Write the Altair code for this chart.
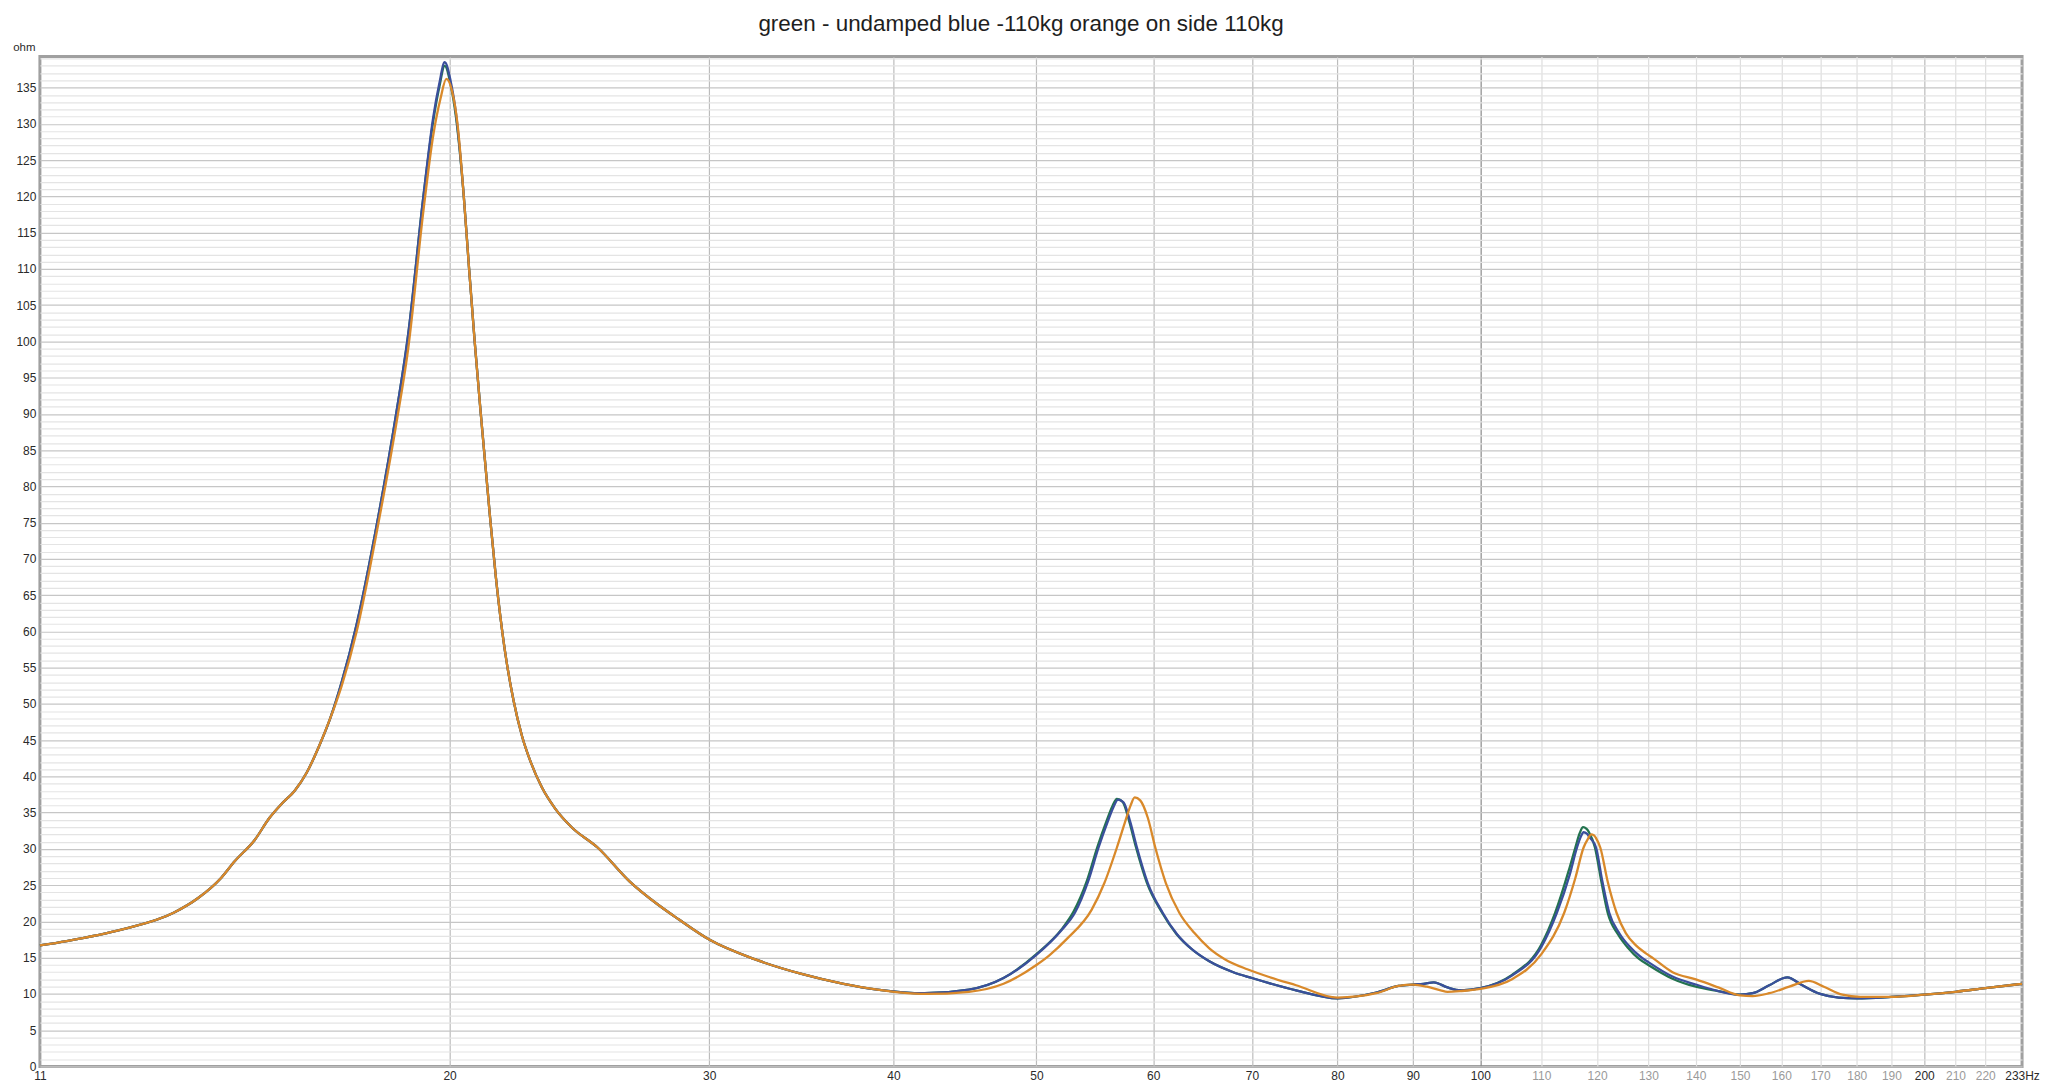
import altair as alt
import pandas as pd

TITLE = "green - undamped blue -110kg orange on side 110kg"

# ---- data (frequency in Hz, impedance in ohm) ----
GREEN_F = [10.55, 11, 12, 13, 13.5, 14, 14.3, 14.75, 15.1, 15.4, 15.7, 16.0, 16.3, 16.6, 16.9, 17.3,
           17.9, 18.4, 18.75, 19.2, 19.5, 19.68, 19.85, 20.03, 20.2, 20.45, 20.62, 20.8, 21.0, 21.3, 21.5,
           21.8, 22.1, 22.4, 22.7, 23.1, 23.6, 24.2, 25.2, 26.5, 27.7, 28.6, 30, 32.2, 34.6, 37, 39, 42,
           45, 47.5, 50, 52, 53, 54.1, 55, 55.8, 56.3, 56.7, 57.2, 57.8, 58.4, 59.4, 60.8, 62.2, 63.7,
           65.5, 68, 70, 75, 80, 85, 88, 90, 91.5, 93, 95, 97, 100, 105, 110, 112.4, 114.8, 116, 116.8,
           117.4, 118.0, 118.5, 119.6, 120.8, 122, 124, 126, 128, 130, 135, 140, 145, 150, 153, 157, 161.5, 165,
           170, 175, 180, 190, 200, 210, 220, 233]
GREEN_V = [16.7, 17.3, 18.9, 21.2, 23.2, 26.0, 28.3, 31.2, 34.3, 36.3, 38.0, 40.5, 44.0, 48.0, 53.0, 61.0,
           76.0, 90.0, 101.0, 120.0, 130.5, 135.0, 138.0, 135.5, 131.0, 120.0, 110.0, 100.0, 90.0, 76.0, 67.5,
           57.5, 50.5, 45.5, 42.0, 38.5, 35.5, 33.0, 30.2, 25.5, 22.3, 20.3, 17.5, 14.8, 12.8, 11.4, 10.6, 10.1,
           10.6, 12.2, 15.5, 18.9, 21.4, 25.6, 30.3, 33.9, 35.9, 36.9, 36.5, 33.8, 30.3, 25.4, 21.3, 18.3, 16.2,
           14.5, 13.0, 12.2, 10.5, 9.4, 10.2, 11.1, 11.3, 11.4, 11.6, 10.9, 10.5, 10.8, 12.6, 16.8, 21.2, 27.0, 30.2, 32.2,
           33.0, 32.8, 32.3, 30.2, 25.5, 21.2, 18.2, 16.3, 14.9, 14.0, 12.1, 11.0, 10.4, 9.9, 10.1, 11.2, 12.3, 11.3,
           10.0, 9.5, 9.4, 9.6, 9.9, 10.3, 10.8, 11.4]

BLUE_F = [10.55, 11, 12, 13, 13.5, 14, 14.3, 14.75, 15.1, 15.4, 15.7, 16.0, 16.3, 16.6, 16.9, 17.3,
          17.9, 18.4, 18.75, 19.2, 19.5, 19.68, 19.85, 20.03, 20.2, 20.45, 20.62, 20.8, 21.0, 21.3, 21.5,
          21.8, 22.1, 22.4, 22.7, 23.1, 23.6, 24.2, 25.2, 26.5, 27.7, 28.6, 30, 32.2, 34.6, 37, 39, 42,
          45, 47.5, 50, 52, 53.1, 54.2, 55.1, 55.9, 56.4, 56.8, 57.3, 57.9, 58.5, 59.5, 60.9, 62.3, 63.8,
          65.5, 68, 70, 75, 80, 85, 88, 90, 91.5, 93, 95, 97, 100, 105, 110, 112.7, 115, 116.3, 117.0,
          117.5, 118.1, 118.6, 119.8, 121, 122.3, 124.3, 126.3, 128.3, 130, 135, 140, 145, 150, 153, 157, 161.5, 165,
          170, 175, 180, 190, 200, 210, 220, 233]
BLUE_V = [16.7, 17.3, 18.9, 21.2, 23.2, 26.0, 28.3, 31.2, 34.3, 36.3, 38.0, 40.5, 44.0, 48.0, 53.0, 61.0,
          76.0, 90.0, 101.0, 120.0, 131.0, 135.5, 138.5, 136.0, 131.5, 120.0, 110.0, 100.0, 90.0, 76.0, 67.5,
          57.5, 50.5, 45.5, 42.0, 38.5, 35.5, 33.0, 30.2, 25.5, 22.3, 20.3, 17.5, 14.8, 12.8, 11.4, 10.6, 10.1,
          10.6, 12.2, 15.4, 18.8, 21.2, 25.5, 30.2, 33.8, 35.8, 36.8, 36.4, 33.7, 30.2, 25.3, 21.2, 18.2, 16.1,
          14.5, 13.0, 12.2, 10.5, 9.4, 10.2, 11.1, 11.3, 11.4, 11.6, 10.9, 10.5, 10.8, 12.5, 16.5, 21.2, 26.5, 30.2, 31.7,
          32.3, 32.1, 31.6, 30.2, 25.5, 21.2, 18.3, 16.5, 15.2, 14.4, 12.4, 11.3, 10.4, 9.9, 10.1, 11.2, 12.3, 11.3,
          10.0, 9.5, 9.4, 9.6, 9.9, 10.3, 10.8, 11.4]

ORANGE_F = [10.55, 11, 12, 13, 13.5, 14, 14.3, 14.75, 15.1, 15.4, 15.7, 16.0, 16.3, 16.6, 16.9, 17.3,
            17.9, 18.4, 18.75, 19.2, 19.5, 19.72, 19.9, 20.08, 20.25, 20.45, 20.62, 20.8, 21.0, 21.3, 21.5,
            21.8, 22.1, 22.4, 22.7, 23.1, 23.6, 24.2, 25.2, 26.5, 27.7, 28.6, 30, 32.2, 34.6, 37, 39, 42,
            45, 47.5, 50, 51, 52.5, 54.5, 55.6, 56.7, 57.4, 57.9, 58.3, 58.8, 59.5, 60.2, 61.2, 62.5, 64.0, 65.5,
            67.1, 69.5, 72, 75, 80, 85, 88, 90, 92, 94, 95, 97, 100, 105, 110, 114, 116, 117.5, 118.3,
            118.9, 119.4, 119.8, 120.6, 122, 123.7, 125.5, 127.5, 129.5, 131, 135, 140, 145, 150, 153, 157, 162, 167,
            171, 176, 181, 190, 200, 210, 220, 233]
ORANGE_V = [16.7, 17.3, 18.9, 21.2, 23.2, 26.0, 28.3, 31.2, 34.3, 36.3, 38.0, 40.5, 44.0, 48.0, 52.5, 60.0,
            75.0, 88.5, 99.0, 118.0, 128.5, 133.5, 136.2, 134.5, 130.0, 120.0, 110.0, 100.0, 90.0, 76.0, 67.5,
            57.5, 50.5, 45.5, 42.0, 38.5, 35.5, 33.0, 30.2, 25.5, 22.3, 20.3, 17.5, 14.8, 12.8, 11.4, 10.6, 10.0,
            10.3, 11.4, 14.0, 15.3, 17.7, 21.6, 25.3, 30.2, 33.6, 35.9, 37.1, 36.7, 34.3, 30.2, 25.3, 21.2, 18.4, 16.3,
            14.8, 13.4, 12.3, 11.2, 9.5, 10.1, 11.1, 11.3, 11.0, 10.5, 10.3, 10.4, 10.7, 12.0, 15.5, 21.2, 26.0, 30.2, 31.4,
            32.0, 31.9, 31.5, 30.2, 25.5, 21.2, 18.4, 16.7, 15.6, 14.9, 13.0, 12.0, 10.9, 9.8, 9.7, 10.1, 11.0, 11.8,
            11.0, 9.9, 9.6, 9.6, 9.9, 10.3, 10.8, 11.4]

SERIES_NAMES = ["green", "blue", "orange"]
SERIES_F = [GREEN_F, BLUE_F, ORANGE_F]
SERIES_V = [GREEN_V, BLUE_V, ORANGE_V]
SERIES_COLORS = ["#23734f", "#3a4f9c", "#d9892a"]

X_MIN, X_MAX = 10.55, 233
X_TICKS = [10.55, 20, 30, 40, 50, 60, 70, 80, 90, 100, 110, 120, 130, 140, 150, 160, 170, 180, 190,
           200, 210, 220, 233]
Y_MAX = 139.3
Y_TICKS = list(range(0, 140))

FONT = "Liberation Sans"

rows = []
for name, fs, vs in zip(SERIES_NAMES, SERIES_F, SERIES_V):
    for f, v in zip(fs, vs):
        rows.append({"series": name, "f": f, "ohm": v})
df = pd.DataFrame(rows)

x_axis = alt.Axis(
    values=X_TICKS, title=None, ticks=False, tickSize=0, domain=False, labelFlush=False,
    labelOverlap=False, labelPadding=4, labelFont=FONT, labelFontSize=12,
    labelExpr="datum.value < 11 ? '11' : (datum.value > 230 ? '233Hz' : format(datum.value, 'd'))",
    labelColor={"expr": "(datum.value > 100 && datum.value < 230 && datum.value != 200) ? '#9a9a9a' : '#2a2a2a'"},
    gridColor={"expr": "datum.value == 100 ? '#8a8a8a' : ((datum.value < 11 || datum.value > 230) ? 'rgba(0,0,0,0)' : ((datum.value > 100 && datum.value != 200) ? '#dedede' : '#bcbcbc'))"},
    gridWidth=1.2,
)
y_axis = alt.Axis(
    values=Y_TICKS, title="ohm", titleAngle=0, titleAlign="right", titleBaseline="alphabetic",
    titleX=-5, titleY=-6, titleFont=FONT, titleFontSize=11.5, titleFontWeight="normal", titleColor="#2a2a2a",
    ticks=False, tickSize=0, domain=False, labelOverlap=False, labelPadding=4, labelFont=FONT,
    labelFontSize=12, labelColor="#2a2a2a", labelBaseline="middle",
    labelExpr="datum.value % 5 == 0 ? format(datum.value, 'd') : ''",
    gridColor={"expr": "datum.value % 5 == 0 ? '#c6c6c6' : '#e4e4e4'"},
    gridWidth=1.2,
)

base = alt.Chart(df).encode(
    x=alt.X("f:Q", scale=alt.Scale(type="log", domain=[X_MIN, X_MAX], nice=False), axis=x_axis),
    y=alt.Y("ohm:Q", scale=alt.Scale(domain=[0, Y_MAX], nice=False, zero=False), axis=y_axis),
)

layers = [
    base.transform_filter(alt.datum.series == name).mark_line(
        color=col, strokeWidth=2.3, interpolate="monotone")
    for name, col in zip(SERIES_NAMES, SERIES_COLORS)
]

chart = alt.layer(*layers).properties(
    width=1988, height=1013,
    title=alt.TitleParams(TITLE, font=FONT, fontSize=22.5, fontWeight="normal", color="#1e1e1e",
                          anchor="middle", offset=6, dx=-10),
    autosize=alt.AutoSizeParams(type="none"),
    padding={"left": 32, "top": 47, "right": 18, "bottom": 16},
    background="white",
).configure_view(stroke="#a0a0a0", strokeWidth=3)

chart.save("out.html", embed_options={"renderer": "svg", "actions": False})
